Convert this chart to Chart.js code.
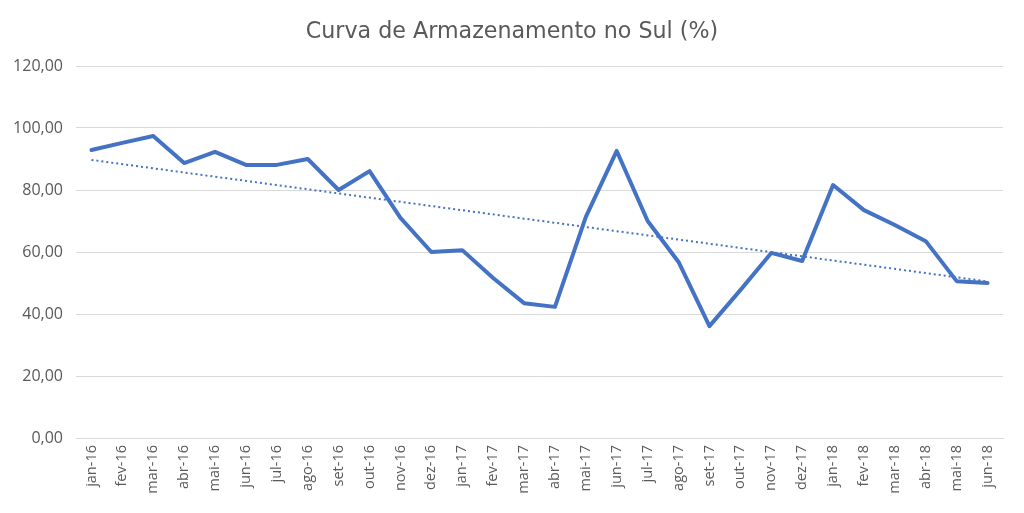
<!DOCTYPE html>
<html>
<head>
<meta charset="utf-8">
<script src="https://cdn.jsdelivr.net/npm/chart.js@4/dist/chart.umd.min.js"></script>
<style>
  html, body { margin: 0; padding: 0; background: #ffffff; }
  #wrap { position: relative; width: 1024px; height: 513px; }
  #title {
    position: absolute; left: 0; top: 17px; width: 1024px;
    text-align: center; line-height: 26.6px;
    font-family: 'DejaVu Sans'; font-size: 22.2px; color: #595959;
  }
</style>
</head>
<body>
<div id="wrap">
  <canvas id="chart" width="1024" height="513"></canvas>
  <div id="title">Curva de Armazenamento no Sul (%)</div>
</div>
<script>
// Months on the x axis
const months = [
  'jan-16', 'fev-16', 'mar-16', 'abr-16', 'mai-16', 'jun-16', 'jul-16', 'ago-16', 'set-16', 'out-16', 'nov-16', 'dez-16',
  'jan-17', 'fev-17', 'mar-17', 'abr-17', 'mai-17', 'jun-17', 'jul-17', 'ago-17', 'set-17', 'out-17', 'nov-17', 'dez-17',
  'jan-18', 'fev-18', 'mar-18', 'abr-18', 'mai-18', 'jun-18'
];

// Storage level (%)
const storage = [
  92.9, 95.2, 97.4, 88.7, 92.3, 88.1, 88.1, 90.0, 80.0, 86.1, 71.0, 60.0,
  60.6, 51.6, 43.5, 42.3, 71.3, 92.6, 70.0, 56.8, 36.1, 47.7, 59.7, 57.1,
  81.6, 73.5, 68.7, 63.5, 50.6, 50.0
];

// Linear trendline: start and end values
const trendStart = 89.7;
const trendEnd = 50.5;
const trend = months.map((m, i) => i === 0 ? trendStart : (i === months.length - 1 ? trendEnd : null));

const yTicks = { min: 0, max: 120, step: 20 };

const blue = '#4472C4';
const textGray = '#595959';

// title sits in the #title div above, so the y labels are not clipped by a left padding
new Chart(document.getElementById('chart'), {
  type: 'line',
  data: {
    labels: months,
    datasets: [
      {
        label: 'Armazenamento',
        data: storage,
        borderColor: blue,
        borderWidth: 4,
        pointRadius: 0,
        tension: 0,
        borderJoinStyle: 'round',
        borderCapStyle: 'round'
      },
      {
        label: 'Tendência',
        data: trend,
        spanGaps: true,
        borderColor: blue,
        borderWidth: 2,
        borderDash: [2, 3],
        pointRadius: 0,
        tension: 0
      }
    ]
  },
  options: {
    responsive: false,
    animation: false,
    layout: { padding: { left: 0, right: 21, top: 66, bottom: 0 } },
    plugins: {
      legend: { display: false },
      tooltip: { enabled: false },
      title: { display: false }
    },
    scales: {
      x: {
        offset: true,
        grid: { display: false, drawTicks: false },
        border: { display: true, color: '#d9d9d9', width: 1 },
        ticks: {
          color: textGray,
          font: { family: 'Open Sans', size: 14.5 },
          maxRotation: 90,
          minRotation: 90,
          autoSkip: false,
          padding: 7
        },
        afterFit: (scale) => { scale.height = 75; }
      },
      y: {
        min: yTicks.min,
        max: yTicks.max,
        grid: { color: '#d9d9d9', lineWidth: 1, drawTicks: false },
        border: { display: false },
        ticks: {
          stepSize: yTicks.step,
          color: textGray,
          font: { family: 'Open Sans', size: 16 },
          padding: 13,
          callback: (v) => v.toFixed(2).replace('.', ',')
        },
        afterFit: (scale) => { scale.width = 76; }
      }
    }
  }
});
</script>
</body>
</html>
